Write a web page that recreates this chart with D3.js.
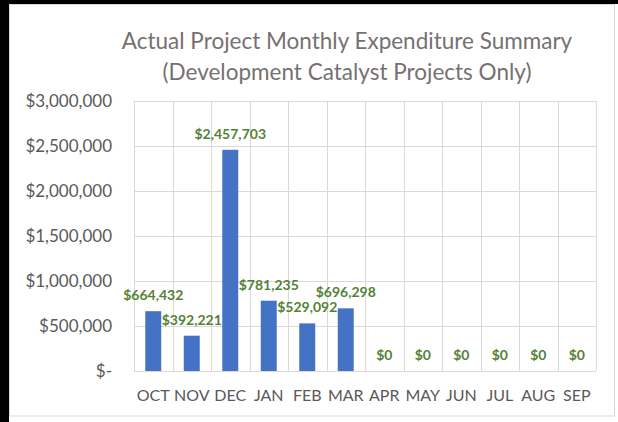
<!DOCTYPE html>
<html>
<head>
<meta charset="utf-8">
<script src="https://cdn.jsdelivr.net/npm/d3@7"></script>
<style>
  body { margin: 0; background: #fff; }
  svg { display: block; }
  text { font-family: Lato, "Noto Sans", sans-serif; }
</style>
</head>
<body>
<div id="chart"></div>
<script>
// data
const months = ["OCT", "NOV", "DEC", "JAN", "FEB", "MAR", "APR", "MAY", "JUN", "JUL", "AUG", "SEP"];
const spending = [664432, 392221, 2457703, 781235, 529092, 696298, 0, 0, 0, 0, 0, 0];
const yTicks = [0, 500000, 1000000, 1500000, 2000000, 2500000, 3000000];
const titleLines = ["Actual Project Monthly Expenditure Summary", "(Development Catalyst Projects Only)"];

const W = 618, H = 422;
const plot = {left: 134, right: 596, top: 101, bottom: 371};

const svg = d3.select("#chart")
  .append("svg")
    .attr("width", W)
    .attr("height", H);

// screenshot frame
svg.append("rect").attr("x", 0).attr("y", 0).attr("width", W).attr("height", 4).attr("fill", "#000");
svg.append("rect").attr("x", 0).attr("y", 0).attr("width", 9).attr("height", H).attr("fill", "#000");
svg.append("rect")
  .attr("x", 9.5).attr("y", 4.5)
  .attr("width", 605).attr("height", 411.5)
  .attr("fill", "#fff")
  .attr("stroke", "#d9d9d9");

const x = d3.scaleBand()
  .domain(months)
  .range([plot.left, plot.right])
  .padding(0);

const y = d3.scaleLinear()
  .domain([0, 3000000])
  .range([plot.bottom, plot.top]);

// gridlines
svg.append("g")
  .selectAll("line")
  .data(yTicks)
  .join("line")
    .attr("x1", plot.left)
    .attr("x2", plot.right)
    .attr("y1", d => Math.round(y(d)) + 0.5)
    .attr("y2", d => Math.round(y(d)) + 0.5)
    .attr("stroke", "#d9d9d9");

svg.append("g")
  .selectAll("line")
  .data(d3.range(months.length + 1))
  .join("line")
    .attr("x1", i => Math.round(plot.left + i * x.step()) + 0.5)
    .attr("x2", i => Math.round(plot.left + i * x.step()) + 0.5)
    .attr("y1", plot.top)
    .attr("y2", plot.bottom)
    .attr("stroke", "#d9d9d9");

// Y axis
svg.append("g")
  .attr("transform", `translate(${plot.left - 19},0)`)
  .call(d3.axisLeft(y)
    .tickValues(yTicks)
    .tickSize(0)
    .tickFormat(d => d === 0 ? "$-" : d3.format("$,")(d)))
  .call(g => g.select(".domain").remove())
  .selectAll("text")
    .style("font-size", "17px")
    .style("font-family", "Lato")
    .attr("fill", "#595959");

// X axis
svg.append("g")
  .attr("transform", `translate(0,${plot.bottom + 16})`)
  .call(d3.axisBottom(x).tickSize(0))
  .call(g => g.select(".domain").remove())
  .selectAll("text")
    .style("font-size", "16px")
    .style("font-family", "Lato")
    .attr("fill", "#595959");

// bars
const barW = x.bandwidth() * 0.415;
svg.append("g")
  .selectAll("rect")
  .data(spending)
  .join("rect")
    .attr("x", (d, i) => x(months[i]) + (x.bandwidth() - barW) / 2)
    .attr("y", d => y(d))
    .attr("width", barW)
    .attr("height", d => plot.bottom - y(d))
    .attr("fill", "#4472c4");

// value labels
svg.append("g")
  .selectAll("text")
  .data(spending)
  .join("text")
    .attr("x", (d, i) => x(months[i]) + x.bandwidth() / 2)
    .attr("y", d => y(d) - 11)
    .attr("text-anchor", "middle")
    .style("font-size", "14px")
    .style("font-weight", "bold")
    .attr("fill", "#548235")
    .text(d => d3.format("$,")(d));

// title
svg.append("g")
  .selectAll("text")
  .data(titleLines)
  .join("text")
    .attr("x", 347)
    .attr("y", (d, i) => 49 + i * 31)
    .attr("text-anchor", "middle")
    .style("font-size", "22.5px")
    .attr("fill", "#767171")
    .text(d => d);
</script>
</body>
</html>
